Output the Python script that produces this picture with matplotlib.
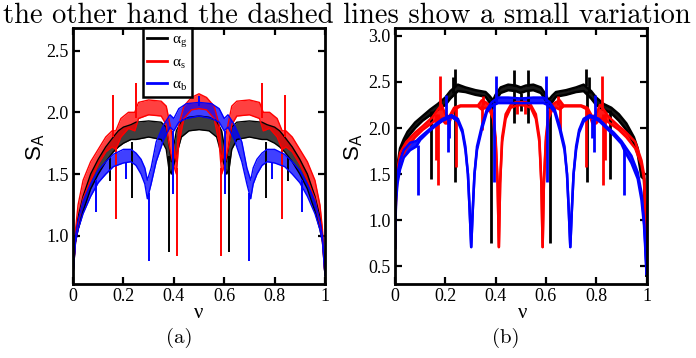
import numpy as np
import matplotlib
matplotlib.use("Agg")
import matplotlib.pyplot as plt

plt.rcParams['font.family'] = ['Liberation Serif', 'DejaVu Serif']
plt.rcParams['mathtext.fontset'] = 'custom'
plt.rcParams['mathtext.rm'] = 'Liberation Serif'
plt.rcParams['mathtext.sf'] = 'Liberation Sans'

# ---------------- panel (a) ----------------
x_a_g = [0.0, 0.01, 0.02, 0.04, 0.07, 0.10, 0.13, 0.16, 0.18, 0.20, 0.23, 0.25, 0.30, 0.35, 0.37, 0.38, 0.39, 0.41, 0.43, 0.46,
         0.50,
         0.54, 0.57, 0.59, 0.61, 0.62, 0.63, 0.65, 0.70, 0.75, 0.77, 0.80, 0.82, 0.84, 0.87, 0.90, 0.93, 0.96, 0.98, 0.99, 1.0]
hi_a_g = [0.68, 1.00, 1.15, 1.32, 1.50, 1.62, 1.72, 1.80, 1.85, 1.88, 1.90, 1.92, 1.93, 1.92, 1.88, 1.75, 1.60, 1.85, 1.93, 1.96,
          1.97,
          1.96, 1.93, 1.85, 1.60, 1.75, 1.88, 1.92, 1.93, 1.92, 1.90, 1.88, 1.85, 1.80, 1.72, 1.62, 1.50, 1.32, 1.15, 1.00, 0.68]
lo_a_g = [0.68, 0.95, 1.05, 1.20, 1.38, 1.50, 1.60, 1.68, 1.72, 1.75, 1.78, 1.78, 1.80, 1.78, 1.70, 1.55, 1.50, 1.65, 1.80, 1.85,
          1.86,
          1.85, 1.80, 1.65, 1.50, 1.55, 1.70, 1.78, 1.80, 1.78, 1.78, 1.75, 1.72, 1.68, 1.60, 1.50, 1.38, 1.20, 1.05, 0.95, 0.68]

x_a_s = [0.0, 0.01, 0.02, 0.04, 0.07, 0.10, 0.13, 0.155, 0.17, 0.19, 0.22, 0.245, 0.26, 0.30, 0.35, 0.37, 0.38, 0.395, 0.41, 0.42, 0.44, 0.47,
         0.50,
         0.53, 0.56, 0.58, 0.59, 0.605, 0.62, 0.63, 0.65, 0.70, 0.74, 0.755, 0.78, 0.81, 0.83, 0.845, 0.87, 0.90, 0.93, 0.96, 0.98, 0.99, 1.0]
hi_a_s = [0.68, 1.05, 1.25, 1.45, 1.60, 1.70, 1.80, 1.85, 1.85, 1.95, 2.00, 2.00, 2.08, 2.10, 2.09, 2.05, 1.95, 1.80, 1.60, 1.90, 2.05, 2.12,
          2.15,
          2.12, 2.05, 1.90, 1.60, 1.80, 1.95, 2.05, 2.09, 2.10, 2.08, 2.00, 2.00, 1.95, 1.85, 1.85, 1.80, 1.70, 1.60, 1.45, 1.25, 1.05, 0.68]
lo_a_s = [0.68, 0.95, 1.10, 1.30, 1.45, 1.58, 1.68, 1.72, 1.70, 1.80, 1.87, 1.85, 1.95, 1.98, 1.97, 1.90, 1.75, 1.60, 1.50, 1.75, 1.95, 2.02,
          2.03,
          2.02, 1.95, 1.75, 1.50, 1.60, 1.75, 1.90, 1.97, 1.98, 1.95, 1.85, 1.87, 1.80, 1.70, 1.72, 1.68, 1.58, 1.45, 1.30, 1.10, 0.95, 0.68]

x_a_b = [0.0, 0.01, 0.02, 0.04, 0.07, 0.10, 0.13, 0.16, 0.20, 0.23, 0.25, 0.27, 0.285, 0.295, 0.31, 0.33, 0.36, 0.385, 0.40, 0.42, 0.45,
         0.50,
         0.55, 0.58, 0.60, 0.615, 0.64, 0.67, 0.69, 0.705, 0.715, 0.73, 0.75, 0.77, 0.80, 0.84, 0.87, 0.90, 0.93, 0.96, 0.98, 0.99, 1.0]
hi_a_b = [0.68, 1.00, 1.12, 1.28, 1.42, 1.53, 1.60, 1.66, 1.70, 1.70, 1.67, 1.62, 1.55, 1.45, 1.55, 1.76, 1.90, 1.98, 1.95, 2.03, 2.07,
          2.08,
          2.07, 2.03, 1.95, 1.98, 1.90, 1.76, 1.55, 1.45, 1.55, 1.62, 1.67, 1.70, 1.70, 1.66, 1.60, 1.53, 1.42, 1.28, 1.12, 1.00, 0.68]
lo_a_b = [0.68, 0.95, 1.05, 1.18, 1.32, 1.43, 1.50, 1.56, 1.59, 1.60, 1.57, 1.50, 1.42, 1.30, 1.42, 1.60, 1.78, 1.88, 1.85, 1.92, 1.95,
          1.97,
          1.95, 1.92, 1.85, 1.88, 1.78, 1.60, 1.42, 1.30, 1.42, 1.50, 1.57, 1.60, 1.59, 1.56, 1.50, 1.43, 1.32, 1.18, 1.05, 0.95, 0.68]

# narrow spikes / dips: position, start, tip
spk_a_g_x = [0.145, 0.234, 0.38, 0.62, 0.766, 0.855]
spk_a_g_0 = [1.65, 1.76, 1.65, 1.65, 1.76, 1.65]
spk_a_g_1 = [1.44, 1.31, 0.87, 0.87, 1.31, 1.44]
spk_a_s_x = [0.16, 0.17, 0.25, 0.413, 0.587, 0.75, 0.83, 0.84]
spk_a_s_0 = [1.80, 1.72, 1.95, 1.55, 1.55, 1.95, 1.72, 1.80]
spk_a_s_1 = [2.14, 1.14, 2.24, 0.84, 0.84, 2.24, 1.14, 2.14]
spk_a_b_x = [0.09, 0.21, 0.30, 0.395, 0.50, 0.605, 0.70, 0.79, 0.91]
spk_a_b_0 = [1.45, 1.60, 1.35, 1.85, 2.05, 1.85, 1.35, 1.60, 1.45]
spk_a_b_1 = [1.19, 1.46, 0.80, 1.34, 2.13, 1.34, 0.80, 1.46, 1.19]

# ---------------- panel (b) ----------------
x_b_g = [0.0, 0.004, 0.01, 0.02, 0.035, 0.05, 0.08, 0.11, 0.14, 0.17, 0.20, 0.22, 0.25, 0.28, 0.32, 0.36, 0.375, 0.39, 0.40, 0.42, 0.45, 0.48,
         0.50,
         0.52, 0.55, 0.58, 0.60, 0.61, 0.625, 0.64, 0.68, 0.72, 0.75, 0.78, 0.80, 0.83, 0.86, 0.89, 0.92, 0.95, 0.965, 0.98, 0.99, 0.996, 1.0]
hi_b_g = [0.70, 1.35, 1.60, 1.78, 1.88, 1.96, 2.06, 2.13, 2.20, 2.26, 2.33, 2.40, 2.47, 2.44, 2.41, 2.39, 2.35, 2.30, 2.36, 2.44, 2.47, 2.46,
          2.44,
          2.46, 2.47, 2.44, 2.36, 2.30, 2.35, 2.39, 2.41, 2.44, 2.47, 2.40, 2.33, 2.26, 2.22, 2.15, 2.05, 1.90, 1.78, 1.55, 1.50, 1.00, 0.40]
lo_b_g = [0.70, 1.30, 1.50, 1.70, 1.82, 1.90, 2.00, 2.08, 2.14, 2.20, 2.25, 2.32, 2.40, 2.39, 2.36, 2.34, 2.28, 2.22, 2.30, 2.38, 2.41, 2.40,
          2.38,
          2.40, 2.41, 2.38, 2.30, 2.22, 2.28, 2.34, 2.36, 2.39, 2.40, 2.32, 2.25, 2.20, 2.16, 2.08, 1.98, 1.84, 1.72, 1.47, 1.45, 0.95, 0.40]

x_b_s = [0.0, 0.004, 0.01, 0.02, 0.045, 0.08, 0.11, 0.15, 0.17, 0.185, 0.20, 0.215, 0.235, 0.26, 0.30, 0.33, 0.345, 0.36, 0.375, 0.39,
         0.40, 0.408, 0.413, 0.418, 0.426, 0.44, 0.46, 0.48,
         0.50,
         0.52, 0.54, 0.56, 0.574, 0.582, 0.587, 0.592, 0.60, 0.61, 0.625, 0.64, 0.655, 0.67, 0.70, 0.74, 0.765, 0.785, 0.80,
         0.815, 0.83, 0.85, 0.89, 0.92, 0.955, 0.98, 0.99, 0.996, 1.0]
hi_b_s = [0.70, 1.30, 1.55, 1.73, 1.85, 1.95, 2.02, 2.12, 2.20, 2.25, 2.15, 2.12, 2.22, 2.245, 2.245, 2.245, 2.30, 2.28, 2.25, 2.15,
          1.90, 1.40, 0.71, 1.40, 1.90, 2.15, 2.25, 2.28,
          2.28,
          2.28, 2.25, 2.15, 1.90, 1.40, 0.71, 1.40, 1.90, 2.15, 2.25, 2.28, 2.30, 2.245, 2.245, 2.245, 2.22, 2.12, 2.15,
          2.25, 2.20, 2.12, 2.02, 1.95, 1.85, 1.65, 1.50, 1.10, 0.45]
lo_b_s = [0.70, 1.25, 1.45, 1.65, 1.78, 1.90, 1.98, 2.06, 2.10, 2.10, 2.05, 2.05, 2.20, 2.235, 2.235, 2.235, 2.20, 2.22, 2.20, 2.10,
          1.85, 1.40, 0.71, 1.40, 1.85, 2.10, 2.22, 2.24,
          2.25,
          2.24, 2.22, 2.10, 1.85, 1.40, 0.71, 1.40, 1.85, 2.10, 2.20, 2.22, 2.20, 2.235, 2.235, 2.235, 2.20, 2.05, 2.05,
          2.10, 2.10, 2.06, 1.98, 1.90, 1.78, 1.60, 1.45, 1.05, 0.45]

x_b_b = [0.0, 0.004, 0.01, 0.02, 0.035, 0.06, 0.085, 0.10, 0.13, 0.16, 0.19, 0.225, 0.25, 0.268, 0.28, 0.29, 0.297, 0.303, 0.309, 0.316,
         0.326, 0.345, 0.365, 0.385, 0.41, 0.45,
         0.50,
         0.55, 0.59, 0.615, 0.635, 0.655, 0.674, 0.684, 0.691, 0.697, 0.703, 0.71, 0.72, 0.732, 0.75, 0.775, 0.81, 0.84, 0.87,
         0.90, 0.915, 0.94, 0.965, 0.98, 0.99, 0.996, 1.0]
hi_b_b = [0.70, 1.25, 1.50, 1.65, 1.76, 1.84, 1.86, 1.90, 1.97, 2.04, 2.10, 2.14, 2.10, 1.98, 1.80, 1.50, 1.10, 0.71, 1.10, 1.50,
          1.80, 2.02, 2.20, 2.28, 2.33, 2.33,
          2.32,
          2.33, 2.33, 2.28, 2.20, 2.02, 1.80, 1.50, 1.10, 0.71, 1.10, 1.50, 1.80, 1.98, 2.10, 2.14, 2.10, 2.02, 1.95,
          1.86, 1.80, 1.70, 1.52, 1.30, 1.00, 0.70, 0.42]
lo_b_b = [0.70, 1.20, 1.40, 1.55, 1.68, 1.76, 1.80, 1.87, 1.95, 2.02, 2.08, 2.12, 2.07, 1.95, 1.76, 1.50, 1.10, 0.71, 1.10, 1.50,
          1.76, 1.98, 2.17, 2.24, 2.27, 2.27,
          2.27,
          2.27, 2.27, 2.24, 2.17, 1.98, 1.76, 1.50, 1.10, 0.71, 1.10, 1.50, 1.76, 1.95, 2.07, 2.12, 2.08, 2.00, 1.92,
          1.83, 1.74, 1.62, 1.45, 1.22, 0.95, 0.65, 0.42]

spk_b_g_x = [0.145, 0.23, 0.238, 0.24, 0.382, 0.472, 0.472, 0.50, 0.528, 0.528, 0.618, 0.76, 0.762, 0.77, 0.855]
spk_b_g_0 = [2.18, 2.38, 2.40, 2.45, 2.30, 2.45, 2.40, 2.38, 2.45, 2.40, 2.30, 2.45, 2.40, 2.38, 2.20]
spk_b_g_1 = [1.45, 2.55, 1.41, 2.64, 0.75, 2.63, 2.05, 2.18, 2.63, 2.05, 0.75, 2.64, 1.41, 2.55, 1.45]
spk_b_s_x = [0.165, 0.172, 0.178, 0.241, 0.345, 0.35, 0.485, 0.515, 0.65, 0.655, 0.759, 0.822, 0.828, 0.835]
spk_b_s_0 = [2.15, 2.15, 2.20, 2.22, 2.25, 2.25, 2.27, 2.27, 2.25, 2.25, 2.22, 2.20, 2.15, 2.15]
spk_b_s_1 = [1.65, 1.38, 2.56, 1.58, 1.98, 2.35, 2.15, 2.15, 2.35, 1.98, 1.58, 2.56, 1.38, 1.65]
spk_b_b_x = [0.09, 0.204, 0.21, 0.215, 0.395, 0.40, 0.60, 0.605, 0.785, 0.79, 0.796, 0.91]
spk_b_b_0 = [1.82, 2.10, 2.10, 2.10, 2.28, 2.28, 2.28, 2.28, 2.10, 2.10, 2.10, 1.82]
spk_b_b_1 = [1.27, 2.36, 1.74, 1.89, 1.42, 2.56, 2.56, 1.42, 1.89, 1.74, 2.36, 1.27]

labels = ['α$_\\mathrm{g}$', 'α$_\\mathrm{s}$', 'α$_\\mathrm{b}$']
colors = ['black', 'red', 'blue']
xticks = [0, 0.2, 0.4, 0.6, 0.8, 1]
xticklabels = ['0', '0.2', '0.4', '0.6', '0.8', '1']
yticks_a = [1.0, 1.5, 2.0, 2.5]
yticks_b = [0.5, 1.0, 1.5, 2.0, 2.5, 3.0]

W, H = 696, 358
fig = plt.figure(figsize=(W / 100, H / 100), dpi=100)
ax1 = fig.add_axes([73 / W, 1 - 284 / H, 252 / W, (284 - 27.7) / H])
ax2 = fig.add_axes([395 / W, 1 - 284 / H, 251.5 / W, (284 - 27.7) / H])


def band(ax, x, hi, lo, c, lw, alpha, label=None):
    ax.fill_between(x, lo, hi, color=c, alpha=alpha, lw=0)
    ax.plot(x, hi, color=c, lw=lw, label=label)
    ax.plot(x, lo, color=c, lw=lw)


a_sets = [(x_a_g, hi_a_g, lo_a_g, spk_a_g_x, spk_a_g_0, spk_a_g_1),
          (x_a_s, hi_a_s, lo_a_s, spk_a_s_x, spk_a_s_0, spk_a_s_1),
          (x_a_b, hi_a_b, lo_a_b, spk_a_b_x, spk_a_b_0, spk_a_b_1)]
b_sets = [(x_b_g, hi_b_g, lo_b_g, spk_b_g_x, spk_b_g_0, spk_b_g_1),
          (x_b_s, hi_b_s, lo_b_s, spk_b_s_x, spk_b_s_0, spk_b_s_1),
          (x_b_b, hi_b_b, lo_b_b, spk_b_b_x, spk_b_b_0, spk_b_b_1)]

for (x, hi, lo, sx, s0, s1), c, lab in zip(a_sets, colors, labels):
    band(ax1, x, hi, lo, c, 1.0, 0.75, lab)
    ax1.vlines(sx, s0, s1, color=c, lw=1.4)

for (x, hi, lo, sx, s0, s1), c in zip(b_sets, colors):
    band(ax2, x, hi, lo, c, 1.8, 0.9)
    ax2.vlines(sx, s0, s1, color=c, lw=2.0)

ax1.set_ylim(0.61, 2.685)
ax2.set_ylim(0.31, 3.087)
for ax, yt in ((ax1, yticks_a), (ax2, yticks_b)):
    ax.set_xlim(0, 1)
    ax.set_xticks(xticks)
    ax.set_xticklabels(xticklabels)
    ax.set_yticks(yt)
    ax.set_yticklabels(['%.1f' % v for v in yt])
    ax.tick_params(direction='in', length=5, width=1.6, top=True, right=True,
                   labelsize=13, pad=3)
    for s in ax.spines.values():
        s.set_linewidth(2.0)

leg = ax1.legend(loc='upper left', bbox_to_anchor=(0.277, 1.0), borderaxespad=0,
                 fontsize=11, handlelength=1.3, handletextpad=0.3, labelspacing=0.4,
                 borderpad=0.3, fancybox=False, framealpha=1, edgecolor='black')
leg.get_frame().set_linewidth(1.8)
for h in leg.get_lines():
    h.set_linewidth(2.0)

# axis labels, panel tags
for px in (35.5, 354):
    fig.text(px / W, 1 - 147 / H, r'$\mathsf{S}_\mathsf{A}$', rotation=90,
             ha='center', va='center', fontsize=16)
for px in (199, 523):
    fig.text(px / W, 1 - 313 / H, 'ν', ha='center', va='center', fontsize=15)
fig.text(179 / W, 1 - 338 / H, '(a)', ha='center', va='center', fontsize=15, family='cmr10')
fig.text(506 / W, 1 - 338 / H, '(b)', ha='center', va='center', fontsize=15, family='cmr10')

# running text line from the page above, clipped at the top
top = fig.text(3 / W, 1 - 23 / H, 'the other hand the dashed lines show a small variation',
               ha='left', va='baseline', fontsize=20, family='cmr10')
r = fig.canvas.get_renderer()
w = top.get_window_extent(renderer=r).width
top.set_fontsize(20 * 688 / w)

fig.savefig('out.png', dpi=100)
